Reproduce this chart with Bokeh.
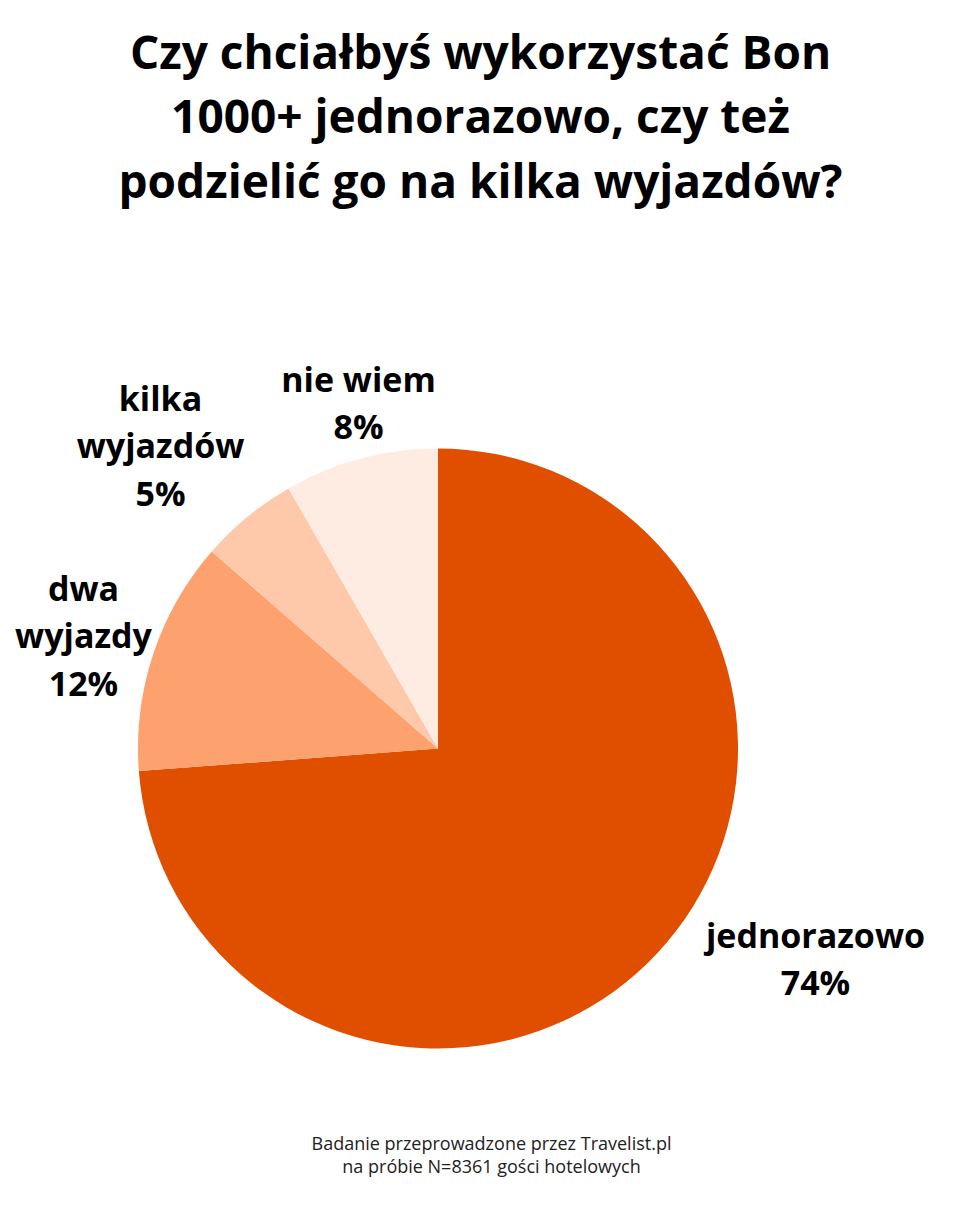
import numpy as np
from bokeh.plotting import figure
from bokeh.models import Range1d, ColumnDataSource
from bokeh.core.properties import value
from bokeh.embed import file_html
from bokeh.resources import INLINE

# dane z wykresu
kategorie = ["jednorazowo", "dwa wyjazdy", "kilka wyjazdów", "nie wiem"]
etykiety = ["jednorazowo\n74%", "dwa\nwyjazdy\n12%", "kilka\nwyjazdów\n5%", "nie wiem\n8%"]
procenty = [73.8, 12.6, 5.3, 8.3]
kolory = ["#e04f00", "#fda26e", "#fdc9aa", "#feece3"]

tytul = "Czy chciałbyś wykorzystać Bon\n1000+ jednorazowo, czy też\npodzielić go na kilka wyjazdów?"
stopka = "Badanie przeprowadzone przez Travelist.pl\nna próbie N=8361 gości hotelowych"

W, H = 944, 1190
FONT = "Open Sans"

p = figure(width=W, height=H, x_range=Range1d(0, W), y_range=Range1d(0, H),
           output_backend="svg", toolbar_location=None, min_border=0)
p.axis.visible = False
p.grid.visible = False
p.outline_line_color = None

# wycinki - zaczynamy od góry, zgodnie z ruchem wskazówek zegara
cx, cy, r = 437.5, 442, 300
udzial = np.array(procenty) / np.sum(procenty)
kat = np.cumsum(np.concatenate([[0], udzial])) * 2 * np.pi
start = np.pi / 2 - kat[1:]
end = np.pi / 2 - kat[:-1]
src = ColumnDataSource(dict(kategoria=kategorie, start=start, end=end, kolor=kolory))
p.wedge(x=cx, y=cy, radius=r, start_angle="start", end_angle="end",
        fill_color="kolor", line_color=None, source=src)

# etykiety (pozycje ustawione recznie)
lab_x = [815, 83, 160, 358]
lab_y = [232, 555, 745, 788]
p.text(x=lab_x, y=lab_y, text=etykiety, text_font=value(FONT), text_font_style="bold",
       text_font_size="34px", text_align="center", text_baseline="middle",
       text_line_height=1.03, text_color="black")

# tytul
p.text(x=[480], y=[1075], text=[tytul], text_font=value(FONT), text_font_style="bold",
       text_font_size="46px", text_align="center", text_baseline="middle",
       text_line_height=1.04, text_color="black")

# stopka
p.text(x=[491], y=[36], text=[stopka], text_font=value(FONT),
       text_font_size="18px", text_align="center", text_baseline="middle",
       text_line_height=0.98, text_color="#222222")

open("out.html", "w").write(file_html(p, INLINE))
